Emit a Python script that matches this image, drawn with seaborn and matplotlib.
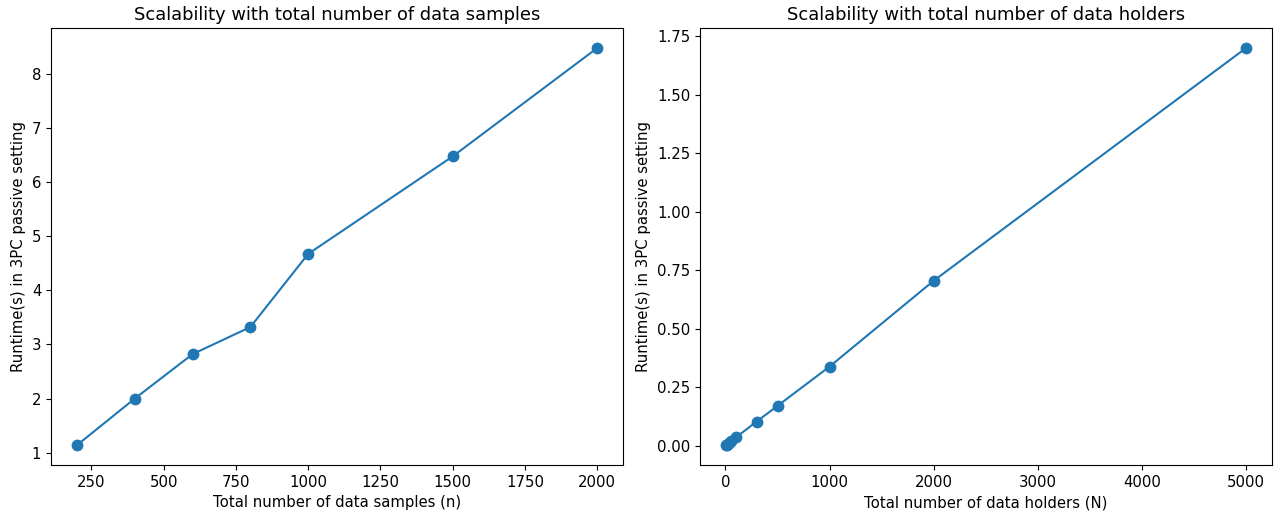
import matplotlib
matplotlib.use("Agg")
import matplotlib.pyplot as plt
import seaborn as sns
import pandas as pd

samples_n = [200, 400, 600, 800, 1000, 1500, 2000]
samples_runtime = [1.14, 2.00, 2.82, 3.32, 4.67, 6.47, 8.47]

holders_N = [3, 10, 30, 50, 100, 300, 500, 1000, 2000, 5000]
holders_runtime = [0.002, 0.004, 0.010, 0.018, 0.035, 0.103, 0.170, 0.338, 0.705, 1.70]

plt.rcParams['font.family'] = ['DejaVu Sans']
fig, axes = plt.subplots(1, 2, figsize=(12.75, 5.13), dpi=100)
fig.subplots_adjust(left=0.040, right=0.9976, top=0.945, bottom=0.0936, wspace=0.134)

df1 = pd.DataFrame({"n": samples_n, "t": samples_runtime})
df2 = pd.DataFrame({"N": holders_N, "t": holders_runtime})

sns.lineplot(data=df1, x="n", y="t", marker="o", markersize=8.5, markeredgewidth=0,
             color="#1f77b4", linewidth=1.5, ax=axes[0])
axes[0].set_title("Scalability with total number of data samples", fontsize=12.9)
axes[0].set_xlabel("Total number of data samples (n)", fontsize=10.7)
axes[0].set_ylabel("Runtime(s) in 3PC passive setting", fontsize=10.7)

sns.lineplot(data=df2, x="N", y="t", marker="o", markersize=8.5, markeredgewidth=0,
             color="#1f77b4", linewidth=1.5, ax=axes[1])
axes[1].set_title("Scalability with total number of data holders", fontsize=12.9)
axes[1].set_xlabel("Total number of data holders (N)", fontsize=10.7)
axes[1].set_ylabel("Runtime(s) in 3PC passive setting", fontsize=10.7)

for ax in axes:
    ax.tick_params(labelsize=10.7)

fig.savefig("out.png", dpi=100)
